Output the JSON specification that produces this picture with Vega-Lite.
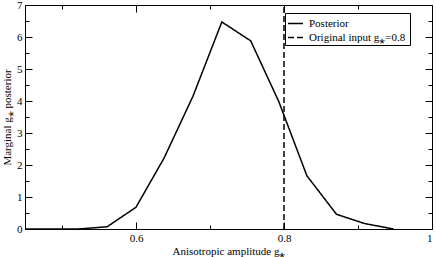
{
  "$schema": "https://vega.github.io/schema/vega-lite/v6.json",
  "width": 407,
  "height": 224,
  "autosize": "none",
  "padding": {"left": 25, "top": 5, "right": 4, "bottom": 28},
  "background": "white",
  "config": {
    "view": {"stroke": null},
    "font": "Liberation Serif",
    "axis": {
      "domainColor": "black",
      "domainWidth": 1,
      "tickColor": "black",
      "labelColor": "black",
      "titleColor": "black",
      "labelFont": "Liberation Serif",
      "titleFont": "Liberation Serif",
      "labelFontSize": 11,
      "titleFontSize": 11,
      "titleFontWeight": "normal",
      "grid": false
    }
  },
  "data": {
    "values": [
      {"g": 0.45, "p": 0, "series": "Posterior"},
      {"g": 0.484, "p": 0, "series": "Posterior"},
      {"g": 0.522, "p": 0, "series": "Posterior"},
      {"g": 0.561, "p": 0.07, "series": "Posterior"},
      {"g": 0.6, "p": 0.68, "series": "Posterior"},
      {"g": 0.638, "p": 2.22, "series": "Posterior"},
      {"g": 0.677, "p": 4.15, "series": "Posterior"},
      {"g": 0.716, "p": 6.47, "series": "Posterior"},
      {"g": 0.755, "p": 5.88, "series": "Posterior"},
      {"g": 0.793, "p": 3.98, "series": "Posterior"},
      {"g": 0.831, "p": 1.66, "series": "Posterior"},
      {"g": 0.871, "p": 0.46, "series": "Posterior"},
      {"g": 0.909, "p": 0.17, "series": "Posterior"},
      {"g": 0.948, "p": 0, "series": "Posterior"},
      {"g": 0.8, "p": null, "series": "Original input  g⁎=0.8"}
    ]
  },
  "layer": [
    {
      "transform": [{"filter": "datum.series === 'Posterior'"}],
      "mark": {"type": "line", "color": "black", "strokeWidth": 1.5},
      "encoding": {
        "x": {
          "field": "g", "type": "quantitative",
          "scale": {"domain": [0.45, 1], "nice": false, "zero": false},
          "axis": {
            "orient": "bottom",
            "title": "Anisotropic amplitude g⁎",
            "values": [0.5, 0.6, 0.7, 0.8, 0.9, 1.0],
            "tickSize": {"condition": {"test": "round(datum.value*10)%2==1", "value": -4}, "value": -7},
            "labelPadding": 10,
            "labelExpr": "round(datum.value*10)%2==0 ? format(datum.value, '~g') : ''",
            "titlePadding": 2
          }
        },
        "y": {
          "field": "p", "type": "quantitative",
          "scale": {"domain": [0, 7], "nice": false},
          "axis": {
            "orient": "left",
            "title": "Marginal g⁎ posterior",
            "values": [0, 0.5, 1, 1.5, 2, 2.5, 3, 3.5, 4, 4.5, 5, 5.5, 6, 6.5, 7],
            "tickSize": {"condition": {"test": "datum.value % 1 != 0", "value": -4}, "value": -7},
            "labelPadding": 10,
            "labelExpr": "datum.value % 1 == 0 ? format(datum.value, 'd') : ''",
            "titlePadding": 4
          }
        },
        "strokeDash": {
          "field": "series", "type": "nominal",
          "scale": {"domain": ["Posterior", "Original input  g⁎=0.8"], "range": [[1, 0], [6, 3]]},
          "legend": {
            "title": null,
            "orient": "none",
            "legendX": 260,
            "legendY": 8,
            "strokeColor": "black",
            "fillColor": "white",
            "padding": 2,
            "symbolType": "stroke",
            "symbolSize": 225,
            "symbolStrokeWidth": 1.5,
            "symbolStrokeColor": "black",
            "labelFont": "Liberation Serif",
            "labelFontSize": 11,
            "labelOffset": 5,
            "labelColor": "black",
            "rowPadding": 0
          }
        }
      }
    },
    {
      "transform": [{"filter": "datum.series !== 'Posterior'"}],
      "mark": {"type": "rule", "color": "black", "strokeWidth": 1.5},
      "encoding": {
        "x": {
          "field": "g", "type": "quantitative",
          "axis": {
            "orient": "top",
            "title": null,
            "labels": false,
            "values": [0.5, 0.6, 0.7, 0.8, 0.9, 1.0],
            "tickSize": {"condition": {"test": "round(datum.value*10)%2==1", "value": -4}, "value": -7}
          }
        },
        "y": {
          "datum": 0, "type": "quantitative",
          "axis": {
            "orient": "right",
            "title": null,
            "labels": false,
            "values": [0, 0.5, 1, 1.5, 2, 2.5, 3, 3.5, 4, 4.5, 5, 5.5, 6, 6.5, 7],
            "tickSize": {"condition": {"test": "datum.value % 1 != 0", "value": -4}, "value": -7}
          }
        },
        "y2": {"datum": 7},
        "strokeDash": {"field": "series", "type": "nominal"}
      }
    }
  ],
  "resolve": {"axis": {"x": "independent", "y": "independent"}}
}
